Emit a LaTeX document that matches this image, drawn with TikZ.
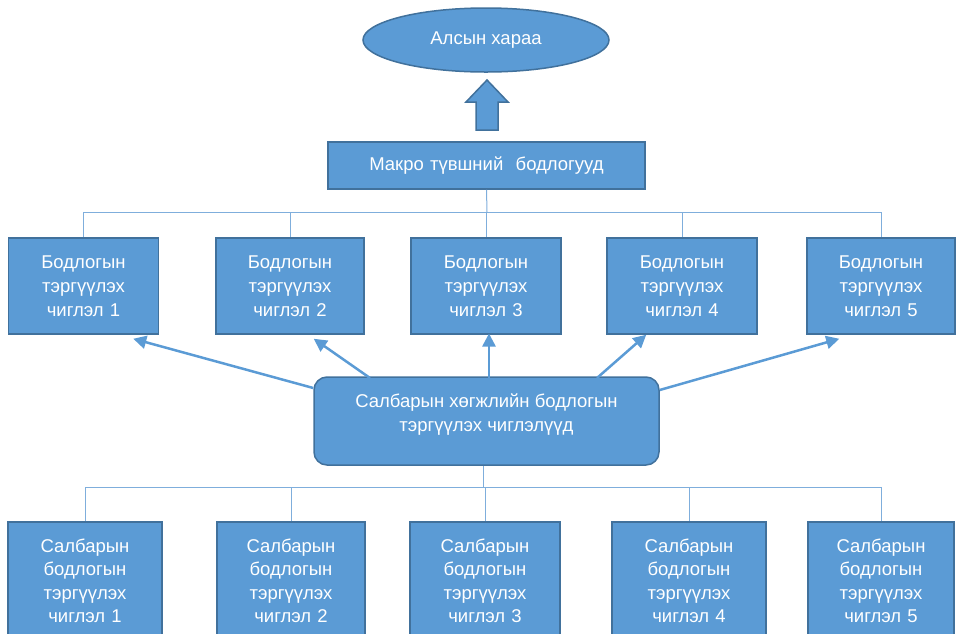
\documentclass[tikz,border=0pt]{standalone}
\usepackage{fontspec}
\setmainfont{Liberation Sans}
\usetikzlibrary{shapes.geometric,arrows.meta,calc}
\definecolor{boxfill}{HTML}{5B9BD5}
\definecolor{boxline}{HTML}{41719C}
\definecolor{treeline}{HTML}{7FAEDC}
\begin{document}
\begin{tikzpicture}[x=1pt,y=-1pt,
  txt/.style={text=white,font=\fontsize{18.5}{24}\selectfont,align=center},
  bx/.style={txt,draw=boxline,fill=boxfill,line width=1.5pt,inner sep=0pt,minimum width=150pt,minimum height=96pt,text width=140pt},
  bbx/.style={bx,minimum height=118pt,font=\fontsize{18.5}{23.5}\selectfont},
  tree/.style={draw=treeline,line width=1pt},
  arr/.style={draw=boxfill,line width=2.5pt,-{Triangle[length=13pt,width=13pt]}}]
\useasboundingbox (0,0) rectangle (956,633);
\begin{scope}
\clip (0,0) rectangle (956,633);
% top ellipse
\node[ellipse,draw=boxline,fill=boxfill,line width=1.5pt,minimum width=246pt,minimum height=64pt,inner sep=0pt,txt] (vis) at (486,40) {Алсын хараа};
% up arrow
\draw[draw=boxline,fill=boxfill,line width=1.5pt] (476,130) -- (476,102) -- (466,102) -- (487,80) -- (508,102) -- (498,102) -- (498,130) -- cycle;
% macro box
\node[bx,minimum width=317pt,minimum height=47pt,text width=310pt] (macro) at (486.5,165.5) {Макро түвшний \ бодлогууд};
% top row
\node[bx] (t1) at (83.5,286) {Бодлогын\\тэргүүлэх\\чиглэл 1};
\node[bx,minimum width=148pt] (t2) at (290,286) {Бодлогын\\тэргүүлэх\\чиглэл 2};
\node[bx] (t3) at (486,286) {Бодлогын\\тэргүүлэх\\чиглэл 3};
\node[bx] (t4) at (682,286) {Бодлогын\\тэргүүлэх\\чиглэл 4};
\node[bx,minimum width=148pt] (t5) at (881,286) {Бодлогын\\тэргүүлэх\\чиглэл 5};
% central box
\node[draw=boxline,fill=boxfill,line width=1.5pt,rounded corners=13pt,minimum width=345pt,minimum height=88pt,inner sep=0pt,
  label={[txt,yshift=6pt]center:Салбарын хөгжлийн бодлогын\\тэргүүлэх чиглэлүүд}] (c) at (486.5,421) {};
% bottom row
\node[bbx,minimum width=154pt] (b1) at (85,581) {Салбарын\\бодлогын\\тэргүүлэх\\чиглэл 1};
\node[bbx,minimum width=148pt] (b2) at (291,581) {Салбарын\\бодлогын\\тэргүүлэх\\чиглэл 2};
\node[bbx] (b3) at (485,581) {Салбарын\\бодлогын\\тэргүүлэх\\чиглэл 3};
\node[bbx,minimum width=154pt] (b4) at (689,581) {Салбарын\\бодлогын\\тэргүүлэх\\чиглэл 4};
\node[bbx,minimum width=146pt] (b5) at (881,581) {Салбарын\\бодлогын\\тэргүүлэх\\чиглэл 5};
% top tree
\coordinate (tj) at (487,212);
\draw[tree] (macro.south) -- (tj);
\draw[tree] (t1.north |- tj) -- (t5.north |- tj);
\foreach \n in {t1,t2,t3,t4,t5} \draw[tree] (\n.north |- tj) -- (\n.north);
% bottom tree
\coordinate (bj) at (483,487);
\draw[tree] (c.south -| bj) -- (bj);
\draw[tree] (b1.north |- bj) -- (b5.north |- bj);
\foreach \n in {b1,b2,b3,b4,b5} \draw[tree] (\n.north |- bj) -- (\n.north);
% arrows
\draw[arr] (c.west |- 0,388) -- ($(t1.south east)+(-26,4)$);
\draw[arr] (370,378) -- ($(t2.south east)+(-51,4)$);
\draw[arr] (489,378) -- (489,333.5);
\draw[arr] (597,378) -- ($(t4.south west)+(40,0)$);
\draw[arr] (c.east |- 0,390) -- ($(t5.south west)+(33,4)$);
\end{scope}
\end{tikzpicture}
\end{document}
